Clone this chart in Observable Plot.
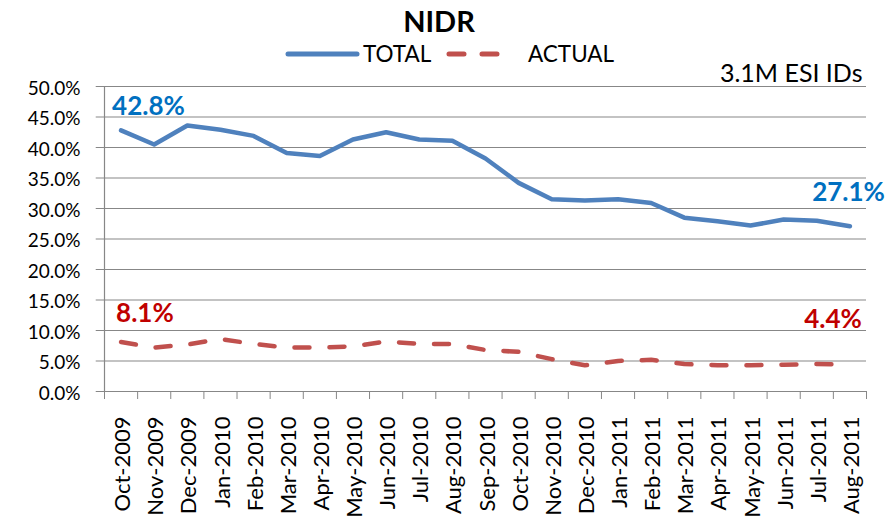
<!DOCTYPE html>
<html>
<head>
<meta charset="utf-8">
<script src="https://cdn.jsdelivr.net/npm/d3@7"></script>
<script src="https://cdn.jsdelivr.net/npm/@observablehq/plot@0.6"></script>
<style>
  body { margin: 0; background: #fff; font-family: Lato, "Open Sans", sans-serif; }
  #wrap { width: 888px; height: 528px; position: relative; overflow: hidden; }
  #head { position: relative; height: 40px; }
  #legend { position: absolute; left: 0; top: 0; z-index: 2; font-family: Lato, "Open Sans", sans-serif; overflow: visible; }
</style>
</head>
<body>
<div id="wrap">
  <svg id="legend" width="888" height="66">
    <text x="439" y="32" text-anchor="middle" font-weight="bold" font-size="29" fill="#000">NIDR</text>
    <line x1="288" x2="357" y1="54" y2="54" stroke="#4F81BD" stroke-width="5" stroke-linecap="round"/>
    <text x="363" y="62" font-size="22.5" fill="#000">TOTAL</text>
    <line x1="449" x2="500" y1="54" y2="54" stroke="#C0504D" stroke-width="5" stroke-dasharray="15,18" stroke-linecap="round"/>
    <text x="528" y="62" font-size="22.5" fill="#000">ACTUAL</text>
  </svg>
  <div id="head"></div>
  <div id="chart"></div>
</div>
<script>
const months = ["Oct-2009","Nov-2009","Dec-2009","Jan-2010","Feb-2010","Mar-2010","Apr-2010","May-2010","Jun-2010","Jul-2010","Aug-2010","Sep-2010","Oct-2010","Nov-2010","Dec-2010","Jan-2011","Feb-2011","Mar-2011","Apr-2011","May-2011","Jun-2011","Jul-2011","Aug-2011"];
const total = [42.8,40.5,43.6,42.9,41.9,39.1,38.6,41.3,42.5,41.3,41.1,38.2,34.2,31.5,31.3,31.5,30.9,28.5,27.9,27.2,28.2,28.0,27.1];
const actual = [8.1,7.2,7.7,8.6,7.8,7.2,7.2,7.4,8.2,7.8,7.8,6.8,6.5,5.3,4.3,5.0,5.2,4.5,4.3,4.3,4.4,4.5,4.4];
const yTicks = [0,5,10,15,20,25,30,35,40,45,50];
const note = "3.1M ESI IDs";

const idx = months.map((m, i) => i);
const bounds = d3.range(months.length + 1).map(i => i - 0.5);
const totalData = idx.map(i => ({i, v: total[i]}));
const actualData = idx.map(i => ({i, v: actual[i]}));
const last = months.length - 1;
const fmt = v => v.toFixed(1) + "%";
const font = "Lato, 'Open Sans', sans-serif";

const chart = Plot.plot({
  width: 888,
  height: 488,
  marginTop: 46,
  marginBottom: 137,
  marginLeft: 104,
  marginRight: 22,
  style: {fontFamily: font, background: "transparent", color: "#000"},
  x: {type: "linear", domain: [-0.5, months.length - 0.5]},
  y: {domain: [0, 50]},
  marks: [
    Plot.ruleY(yTicks, {x1: -0.75, x2: months.length - 0.5, stroke: "#878787", strokeWidth: 1.2}),
    Plot.ruleX([-0.5], {y1: 0, y2: 50, stroke: "#878787", strokeWidth: 1.2}),
    Plot.axisY({ticks: yTicks, tickFormat: fmt, tickSize: 0, tickPadding: 24, fontSize: 19, dy: 2, label: null}),
    Plot.axisX({ticks: bounds, tickFormat: () => "", tickSize: 8, stroke: "#878787", label: null}),
    Plot.axisX({ticks: idx, tickFormat: i => months[i], tickSize: 0, tickPadding: 25, tickRotate: -90, fontSize: 22, dx: 2, label: null}),
    Plot.line(totalData, {x: "i", y: "v", stroke: "#4F81BD", strokeWidth: 4.5, strokeLinejoin: "round"}),
    Plot.line(actualData, {x: "i", y: "v", stroke: "#C0504D", strokeWidth: 4.5, strokeDasharray: "15,20", strokeLinecap: "round"}),
    Plot.text([totalData[0]], {x: "i", y: "v", text: d => fmt(d.v), textAnchor: "start", dx: -9, dy: -24, fill: "#0070C0", fontWeight: "bold", fontSize: 26}),
    Plot.text([totalData[last]], {x: "i", y: "v", text: d => fmt(d.v), textAnchor: "end", dx: 35, dy: -34, fill: "#0070C0", fontWeight: "bold", fontSize: 26}),
    Plot.text([actualData[0]], {x: "i", y: "v", text: d => fmt(d.v), textAnchor: "start", dx: -5, dy: -28, fill: "#C00000", fontWeight: "bold", fontSize: 26}),
    Plot.text([actualData[last]], {x: "i", y: "v", text: d => fmt(d.v), textAnchor: "end", dx: 12, dy: -45, fill: "#C00000", fontWeight: "bold", fontSize: 26}),
    Plot.text([note], {frameAnchor: "top-right", text: d => d, textAnchor: "end", lineAnchor: "bottom", dx: -4, dy: -5, fontSize: 25, fill: "#000"})
  ]
});
document.getElementById("chart").appendChild(chart);
</script>
</body>
</html>
